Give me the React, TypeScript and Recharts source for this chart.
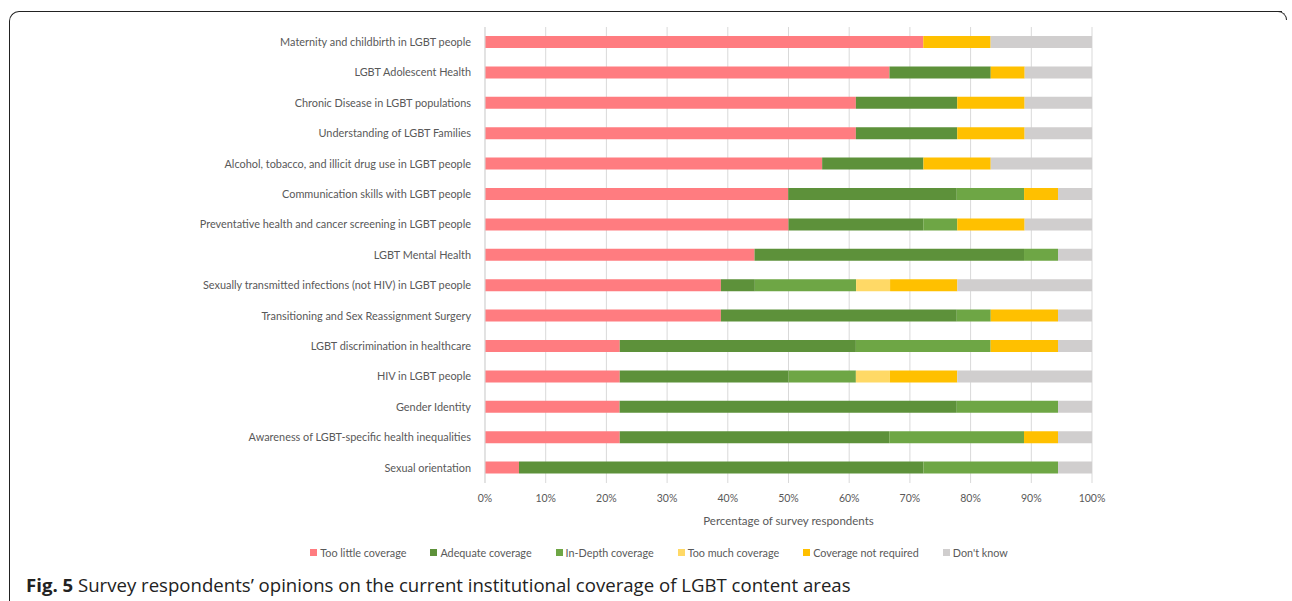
import React from 'react';
import { BarChart, Bar, XAxis, YAxis, CartesianGrid, Label } from 'recharts';

const categories = [
  'Maternity and childbirth in LGBT people',
  'LGBT Adolescent Health',
  'Chronic Disease in LGBT populations',
  'Understanding of LGBT Families',
  'Alcohol, tobacco, and illicit drug use in LGBT people',
  'Communication skills with LGBT people',
  'Preventative health and cancer screening in LGBT people',
  'LGBT Mental Health',
  'Sexually transmitted infections (not HIV) in LGBT people',
  'Transitioning and Sex Reassignment Surgery',
  'LGBT discrimination in healthcare',
  'HIV in LGBT people ',
  'Gender Identity',
  'Awareness of LGBT-specific health inequalities',
  'Sexual orientation',
];

// percentage of respondents
const tooLittle = [72.2, 66.7, 61.1, 61.1, 55.6, 50, 50, 44.4, 38.9, 38.9, 22.2, 22.2, 22.2, 22.2, 5.6];
const adequate = [0, 16.7, 16.7, 16.7, 16.7, 27.8, 22.2, 44.4, 5.6, 38.9, 38.9, 27.8, 55.6, 44.4, 66.7];
const inDepth = [0, 0, 0, 0, 0, 11.1, 5.6, 5.6, 16.7, 5.6, 22.2, 11.1, 16.7, 22.2, 22.2];
const tooMuch = [0, 0, 0, 0, 0, 0, 0, 0, 5.6, 0, 0, 5.6, 0, 0, 0];
const notRequired = [11.1, 5.6, 11.1, 11.1, 11.1, 5.6, 11.1, 0, 11.1, 11.1, 11.1, 11.1, 0, 5.6, 0];
const dontKnow = [16.7, 11.1, 11.1, 11.1, 16.7, 5.6, 11.1, 5.6, 22.2, 5.6, 5.6, 22.2, 5.6, 5.6, 5.6];

const xTicks = [0, 0.1, 0.2, 0.3, 0.4, 0.5, 0.6, 0.7, 0.8, 0.9, 1];

const series = [
  { key: 'tooLittle', name: 'Too little coverage', color: '#FF7C80', values: tooLittle },
  { key: 'adequate', name: 'Adequate coverage', color: '#5D913A', values: adequate },
  { key: 'inDepth', name: 'In-Depth coverage', color: '#6EA645', values: inDepth },
  { key: 'tooMuch', name: 'Too much coverage', color: '#FFD966', values: tooMuch },
  { key: 'notRequired', name: 'Coverage not required', color: '#FFC000', values: notRequired },
  { key: 'dontKnow', name: "Don't know", color: '#D0CECE', values: dontKnow },
];

const data = categories.map((name, i) => {
  const row: Record<string, string | number> = { name };
  series.forEach((s) => { row[s.key] = s.values[i]; });
  return row;
});

const FONT = 'Lato, "Open Sans", sans-serif';
const GREY = '#595959';

export default function App() {
  return (
    <div style={{ position: 'absolute', left: 0, top: 0, width: 1292, height: 601, background: '#fff', overflow: 'hidden', fontFamily: FONT }}>
      {/* figure frame */}
      <div style={{ position: 'absolute', left: 9, top: 11, width: 1272, height: 600, borderTop: '1.5px solid #222', borderLeft: '1.5px solid #222', borderTopLeftRadius: 10 }} />
      <div style={{ position: 'absolute', left: 1276, top: 11, width: 10, height: 8, borderTop: '1.5px solid #222', borderRight: '1.5px solid #222', borderTopRightRadius: 10 }} />

      <div style={{ position: 'absolute', left: 0, top: 0 }}>
        <BarChart
          width={1292}
          height={540}
          data={data}
          layout="vertical"
          stackOffset="expand"
          margin={{ top: 27, right: 200, bottom: 15, left: 0 }}
        >
          <CartesianGrid horizontal={false} vertical stroke="#D9D9D9" />
          <XAxis
            type="number"
            domain={[0, 1]}
            ticks={xTicks}
            tickFormatter={(v: number) => `${Math.round(v * 100)}%`}
            axisLine={false}
            tickLine={false}
            tickSize={0}
            tickMargin={12}
            height={42}
            tick={{ fontSize: 10.5, fill: GREY, fontFamily: FONT }}
          >
            <Label value="Percentage of survey respondents" position="insideBottom" offset={0} style={{ fontSize: 11.5, fill: GREY, fontFamily: FONT }} />
          </XAxis>
          <YAxis
            type="category"
            dataKey="name"
            width={485}
            axisLine={{ stroke: '#D9D9D9' }}
            tickLine={false}
            tickSize={0}
            tickMargin={14}
            interval={0}
            tick={{ fontSize: 10.9, fill: GREY, fontFamily: FONT }}
          />
          {series.map((s) => (
            <Bar key={s.key} dataKey={s.key} name={s.name} stackId="a" fill={s.color} barSize={12} isAnimationActive={false} />
          ))}
        </BarChart>
      </div>

      {/* legend */}
      <div style={{ position: 'absolute', left: 0, width: 1318, top: 546, display: 'flex', justifyContent: 'center', gap: 24, fontSize: 10.8, color: GREY }}>
        {series.map((s) => (
          <div key={s.key} style={{ display: 'flex', alignItems: 'center', gap: 3 }}>
            <span style={{ display: 'inline-block', width: 7, height: 7, background: s.color }} />
            <span>{s.name}</span>
          </div>
        ))}
      </div>

      {/* caption */}
      <div style={{ position: 'absolute', left: 26, top: 572, fontSize: 18.6, color: '#222', fontFamily: '"Open Sans", sans-serif', whiteSpace: 'nowrap' }}>
        <b>Fig. 5</b> Survey respondents’ opinions on the current institutional coverage of LGBT content areas
      </div>
    </div>
  );
}
